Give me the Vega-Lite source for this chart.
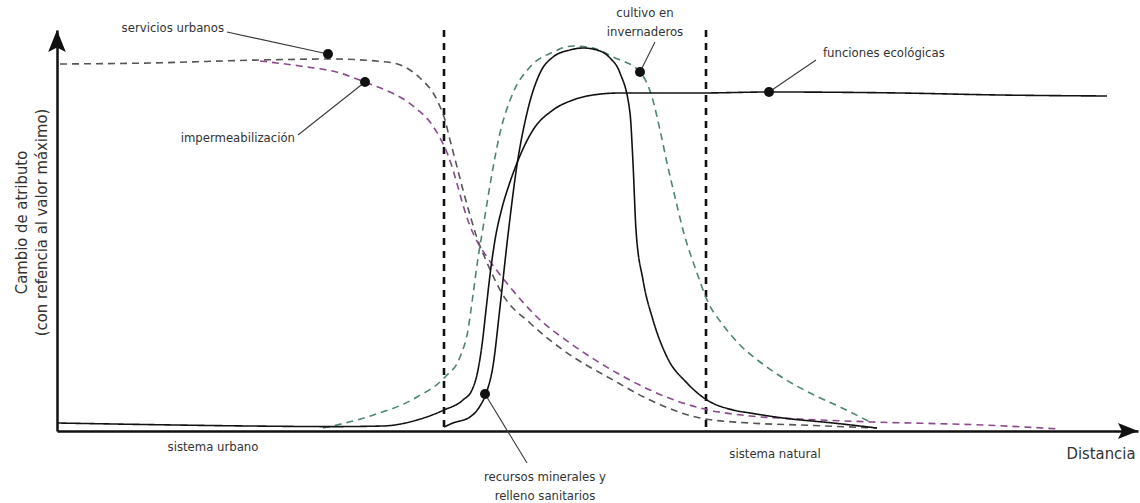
{
  "$schema": "https://vega.github.io/schema/vega-lite/v6.json",
  "width": 1081,
  "height": 401,
  "autosize": {"type": "none"},
  "padding": {"left": 57, "top": 30, "right": 2, "bottom": 72},
  "background": "white",
  "config": {
    "view": {"stroke": null},
    "font": "Liberation Sans Narrow, DejaVu Sans Condensed, sans-serif",
    "text": {"font": "Liberation Sans Narrow, DejaVu Sans Condensed, sans-serif"}
  },
  "datasets": {
    "curvas": [
      {"serie": "servicios urbanos", "x": 0.3, "y": 91.75},
      {"serie": "servicios urbanos", "x": 9.3, "y": 92},
      {"serie": "servicios urbanos", "x": 20.3, "y": 92.75},
      {"serie": "servicios urbanos", "x": 27.3, "y": 93},
      {"serie": "servicios urbanos", "x": 33, "y": 92.25},
      {"serie": "servicios urbanos", "x": 35.3, "y": 90.25},
      {"serie": "servicios urbanos", "x": 36.3, "y": 88.25},
      {"serie": "servicios urbanos", "x": 38, "y": 82.75},
      {"serie": "servicios urbanos", "x": 38.8, "y": 77.75},
      {"serie": "servicios urbanos", "x": 39.3, "y": 72.75},
      {"serie": "servicios urbanos", "x": 39.9, "y": 67},
      {"serie": "servicios urbanos", "x": 40.6, "y": 60.25},
      {"serie": "servicios urbanos", "x": 41.3, "y": 54},
      {"serie": "servicios urbanos", "x": 42, "y": 48.25},
      {"serie": "servicios urbanos", "x": 42.8, "y": 43.25},
      {"serie": "servicios urbanos", "x": 43.7, "y": 38.25},
      {"serie": "servicios urbanos", "x": 44.6, "y": 34},
      {"serie": "servicios urbanos", "x": 47.3, "y": 27},
      {"serie": "servicios urbanos", "x": 50.6, "y": 20.25},
      {"serie": "servicios urbanos", "x": 55.6, "y": 12.75},
      {"serie": "servicios urbanos", "x": 59.3, "y": 7.75},
      {"serie": "servicios urbanos", "x": 64.3, "y": 3.25},
      {"serie": "servicios urbanos", "x": 69.3, "y": 2},
      {"serie": "servicios urbanos", "x": 74.3, "y": 1.5},
      {"serie": "servicios urbanos", "x": 82, "y": 0.75},

      {"serie": "impermeabilización", "x": 20.3, "y": 92.5},
      {"serie": "impermeabilización", "x": 24.3, "y": 91.25},
      {"serie": "impermeabilización", "x": 28.3, "y": 89.5},
      {"serie": "impermeabilización", "x": 31, "y": 87},
      {"serie": "impermeabilización", "x": 33.3, "y": 84.75},
      {"serie": "impermeabilización", "x": 34.8, "y": 82.75},
      {"serie": "impermeabilización", "x": 36.1, "y": 80.25},
      {"serie": "impermeabilización", "x": 37.3, "y": 77.25},
      {"serie": "impermeabilización", "x": 38.3, "y": 73.25},
      {"serie": "impermeabilización", "x": 39.1, "y": 69},
      {"serie": "impermeabilización", "x": 39.9, "y": 62.75},
      {"serie": "impermeabilización", "x": 40.6, "y": 56.5},
      {"serie": "impermeabilización", "x": 41.3, "y": 51.25},
      {"serie": "impermeabilización", "x": 42.1, "y": 47},
      {"serie": "impermeabilización", "x": 43, "y": 43.5},
      {"serie": "impermeabilización", "x": 45.3, "y": 36},
      {"serie": "impermeabilización", "x": 48, "y": 28.5},
      {"serie": "impermeabilización", "x": 51.3, "y": 22},
      {"serie": "impermeabilización", "x": 56, "y": 14.5},
      {"serie": "impermeabilización", "x": 59.3, "y": 10.25},
      {"serie": "impermeabilización", "x": 64.3, "y": 5.75},
      {"serie": "impermeabilización", "x": 69.3, "y": 3.75},
      {"serie": "impermeabilización", "x": 74.3, "y": 3},
      {"serie": "impermeabilización", "x": 81.6, "y": 2.25},
      {"serie": "impermeabilización", "x": 92.6, "y": 1.5},
      {"serie": "impermeabilización", "x": 100.3, "y": 0.5},

      {"serie": "cultivo en invernaderos", "x": 26.6, "y": 0.75},
      {"serie": "cultivo en invernaderos", "x": 31, "y": 3.5},
      {"serie": "cultivo en invernaderos", "x": 36, "y": 8.5},
      {"serie": "cultivo en invernaderos", "x": 38.8, "y": 13.5},
      {"serie": "cultivo en invernaderos", "x": 40.3, "y": 18.5},
      {"serie": "cultivo en invernaderos", "x": 41.1, "y": 25.25},
      {"serie": "cultivo en invernaderos", "x": 41.6, "y": 34},
      {"serie": "cultivo en invernaderos", "x": 42.1, "y": 43.25},
      {"serie": "cultivo en invernaderos", "x": 42.6, "y": 50.75},
      {"serie": "cultivo en invernaderos", "x": 43.3, "y": 61.5},
      {"serie": "cultivo en invernaderos", "x": 44.3, "y": 74.5},
      {"serie": "cultivo en invernaderos", "x": 45.6, "y": 84.5},
      {"serie": "cultivo en invernaderos", "x": 47.3, "y": 91},
      {"serie": "cultivo en invernaderos", "x": 49.6, "y": 94.75},
      {"serie": "cultivo en invernaderos", "x": 51.6, "y": 96.25},
      {"serie": "cultivo en invernaderos", "x": 53.6, "y": 95.75},
      {"serie": "cultivo en invernaderos", "x": 55.6, "y": 93.5},
      {"serie": "cultivo en invernaderos", "x": 58.3, "y": 89.75},
      {"serie": "cultivo en invernaderos", "x": 59.5, "y": 83.5},
      {"serie": "cultivo en invernaderos", "x": 60.3, "y": 75.25},
      {"serie": "cultivo en invernaderos", "x": 61, "y": 67},
      {"serie": "cultivo en invernaderos", "x": 61.8, "y": 58.5},
      {"serie": "cultivo en invernaderos", "x": 62.6, "y": 50.25},
      {"serie": "cultivo en invernaderos", "x": 64, "y": 39.5},
      {"serie": "cultivo en invernaderos", "x": 65, "y": 32.75},
      {"serie": "cultivo en invernaderos", "x": 66.6, "y": 26.5},
      {"serie": "cultivo en invernaderos", "x": 68.3, "y": 21.5},
      {"serie": "cultivo en invernaderos", "x": 70.3, "y": 17.25},
      {"serie": "cultivo en invernaderos", "x": 72.6, "y": 13.25},
      {"serie": "cultivo en invernaderos", "x": 75.3, "y": 9.5},
      {"serie": "cultivo en invernaderos", "x": 78.3, "y": 6},
      {"serie": "cultivo en invernaderos", "x": 81.5, "y": 2},

      {"serie": "recursos minerales y relleno sanitarios", "x": 38.7, "y": 1},
      {"serie": "recursos minerales y relleno sanitarios", "x": 39.6, "y": 2},
      {"serie": "recursos minerales y relleno sanitarios", "x": 41.3, "y": 3.5},
      {"serie": "recursos minerales y relleno sanitarios", "x": 42.3, "y": 6.25},
      {"serie": "recursos minerales y relleno sanitarios", "x": 43, "y": 10},
      {"serie": "recursos minerales y relleno sanitarios", "x": 43.6, "y": 16.25},
      {"serie": "recursos minerales y relleno sanitarios", "x": 44.3, "y": 31},
      {"serie": "recursos minerales y relleno sanitarios", "x": 45.1, "y": 49},
      {"serie": "recursos minerales y relleno sanitarios", "x": 46, "y": 66.5},
      {"serie": "recursos minerales y relleno sanitarios", "x": 47, "y": 79.5},
      {"serie": "recursos minerales y relleno sanitarios", "x": 48.3, "y": 89.5},
      {"serie": "recursos minerales y relleno sanitarios", "x": 49.6, "y": 93.5},
      {"serie": "recursos minerales y relleno sanitarios", "x": 51.3, "y": 95.25},
      {"serie": "recursos minerales y relleno sanitarios", "x": 52.6, "y": 95.75},
      {"serie": "recursos minerales y relleno sanitarios", "x": 54, "y": 95.25},
      {"serie": "recursos minerales y relleno sanitarios", "x": 55.3, "y": 93.25},
      {"serie": "recursos minerales y relleno sanitarios", "x": 56.3, "y": 89.5},
      {"serie": "recursos minerales y relleno sanitarios", "x": 57.3, "y": 79.5},
      {"serie": "recursos minerales y relleno sanitarios", "x": 57.6, "y": 67},
      {"serie": "recursos minerales y relleno sanitarios", "x": 57.9, "y": 50.25},
      {"serie": "recursos minerales y relleno sanitarios", "x": 58.6, "y": 37.75},
      {"serie": "recursos minerales y relleno sanitarios", "x": 59.6, "y": 27.75},
      {"serie": "recursos minerales y relleno sanitarios", "x": 61, "y": 18.5},
      {"serie": "recursos minerales y relleno sanitarios", "x": 63, "y": 12},
      {"serie": "recursos minerales y relleno sanitarios", "x": 65, "y": 7.75},
      {"serie": "recursos minerales y relleno sanitarios", "x": 67.6, "y": 5.25},
      {"serie": "recursos minerales y relleno sanitarios", "x": 69.3, "y": 4.5},
      {"serie": "recursos minerales y relleno sanitarios", "x": 72.6, "y": 3.25},
      {"serie": "recursos minerales y relleno sanitarios", "x": 77.6, "y": 2},
      {"serie": "recursos minerales y relleno sanitarios", "x": 82, "y": 0.75},

      {"serie": "funciones ecológicas", "x": 0, "y": 2},
      {"serie": "funciones ecológicas", "x": 9.3, "y": 1.6},
      {"serie": "funciones ecológicas", "x": 19.3, "y": 1.25},
      {"serie": "funciones ecológicas", "x": 27.6, "y": 1.1},
      {"serie": "funciones ecológicas", "x": 32.6, "y": 1.25},
      {"serie": "funciones ecológicas", "x": 36, "y": 2.75},
      {"serie": "funciones ecológicas", "x": 38.7, "y": 5.25},
      {"serie": "funciones ecológicas", "x": 40.6, "y": 7.75},
      {"serie": "funciones ecológicas", "x": 41.5, "y": 10.25},
      {"serie": "funciones ecológicas", "x": 42.1, "y": 15.25},
      {"serie": "funciones ecológicas", "x": 42.5, "y": 21.5},
      {"serie": "funciones ecológicas", "x": 42.9, "y": 30.25},
      {"serie": "funciones ecológicas", "x": 43.3, "y": 39},
      {"serie": "funciones ecológicas", "x": 43.8, "y": 47.75},
      {"serie": "funciones ecológicas", "x": 44.5, "y": 55.75},
      {"serie": "funciones ecológicas", "x": 45.2, "y": 61.5},
      {"serie": "funciones ecológicas", "x": 46, "y": 67},
      {"serie": "funciones ecológicas", "x": 47.6, "y": 75.25},
      {"serie": "funciones ecológicas", "x": 49.6, "y": 80.25},
      {"serie": "funciones ecológicas", "x": 51.6, "y": 82.75},
      {"serie": "funciones ecológicas", "x": 53.6, "y": 84},
      {"serie": "funciones ecológicas", "x": 56.3, "y": 84.5},
      {"serie": "funciones ecológicas", "x": 64.3, "y": 84.5},
      {"serie": "funciones ecológicas", "x": 71.2, "y": 84.75},
      {"serie": "funciones ecológicas", "x": 84.3, "y": 84.5},
      {"serie": "funciones ecológicas", "x": 94.3, "y": 84},
      {"serie": "funciones ecológicas", "x": 105, "y": 83.75}
    ],
    "limites": [{"x": 38.7}, {"x": 64.9}],
    "marcadores": [
      {"serie": "servicios urbanos", "x": 27.1, "y": 94.25, "tx": 17, "ty": 99.75},
      {"serie": "impermeabilización", "x": 30.8, "y": 87.25, "tx": 24.1, "ty": 74},
      {"serie": "cultivo en invernaderos", "x": 58.3, "y": 89.75, "tx": 59.8, "ty": 97.25},
      {"serie": "funciones ecológicas", "x": 71.2, "y": 84.75, "tx": 75.9, "ty": 92.75},
      {"serie": "recursos minerales y relleno sanitarios", "x": 42.8, "y": 9.25, "tx": 47, "ty": -8}
    ],
    "etiquetasDerecha": [
      {"texto": "servicios urbanos", "x": 16.7, "y": 100.75},
      {"texto": "impermeabilización", "x": 23.8, "y": 73.25}
    ],
    "etiquetasIzquierda": [
      {"texto": "funciones ecológicas", "x": 76.6, "y": 94.5}
    ],
    "etiquetasCentro": [
      {"texto": "cultivo en\ninvernaderos", "x": 58.8, "y": 104.5},
      {"texto": "recursos minerales y\nrelleno sanitarios", "x": 48.8, "y": -11.5},
      {"texto": "sistema urbano", "x": 15.6, "y": -4},
      {"texto": "sistema natural", "x": 71.8, "y": -5.75}
    ],
    "flechaX": [{"x": 107.1, "y": 0}],
    "flechaY": [{"x": 0, "y": 97.5}]
  },
  "encoding": {
    "x": {
      "field": "x", "type": "quantitative",
      "scale": {"domain": [0, 108.1], "nice": false, "zero": false},
      "axis": {
        "title": "Distancia", "grid": false, "ticks": false, "labels": false,
        "domainColor": "#111", "domainWidth": 2.5,
        "titleFont": "Liberation Sans Narrow, DejaVu Sans Condensed, sans-serif",
        "titleFontSize": 16.5, "titleFontWeight": "normal", "titleColor": "#333",
        "titleAnchor": "end", "titleAlign": "right", "titleBaseline": "middle",
        "titleX": 1078, "titleY": 22
      }
    },
    "y": {
      "field": "y", "type": "quantitative",
      "scale": {"domain": [0, 100.25], "nice": false, "zero": false},
      "axis": {
        "title": ["Cambio de atributo", "(con refencia al valor máximo)"],
        "grid": false, "ticks": false, "labels": false,
        "domainColor": "#111", "domainWidth": 2.5,
        "titleFont": "Liberation Sans Narrow, DejaVu Sans Condensed, sans-serif",
        "titleFontSize": 16.5, "titleFontWeight": "normal", "titleColor": "#333",
        "titleAngle": 270, "titleAlign": "center", "titleBaseline": "middle",
        "titleLineHeight": 20, "titleX": -36, "titleY": 192
      }
    }
  },
  "layer": [
    {
      "data": {"name": "limites"},
      "mark": {"type": "rule", "color": "#111", "strokeWidth": 2.6, "strokeDash": [7, 6]},
      "encoding": {"y": null}
    },
    {
      "data": {"name": "curvas"},
      "mark": {"type": "line", "interpolate": "monotone", "strokeWidth": 1.6},
      "encoding": {
        "detail": {"field": "serie"},
        "color": {
          "field": "serie", "type": "nominal", "legend": null,
          "scale": {
            "domain": ["servicios urbanos", "impermeabilización", "cultivo en invernaderos", "recursos minerales y relleno sanitarios", "funciones ecológicas"],
            "range": ["#555555", "#8a4a8c", "#4c8574", "#111111", "#111111"]
          }
        },
        "strokeDash": {
          "field": "serie", "type": "nominal", "legend": null,
          "scale": {
            "domain": ["servicios urbanos", "impermeabilización", "cultivo en invernaderos", "recursos minerales y relleno sanitarios", "funciones ecológicas"],
            "range": [[7, 5], [7, 5], [7, 5], [1, 0], [1, 0]]
          }
        }
      }
    },
    {
      "data": {"name": "marcadores"},
      "mark": {"type": "rule", "color": "#3a3a3a", "strokeWidth": 1.1},
      "encoding": {
        "x2": {"field": "tx"},
        "y2": {"field": "ty"}
      }
    },
    {
      "data": {"name": "marcadores"},
      "mark": {"type": "point", "filled": true, "color": "#111", "size": 100, "opacity": 1}
    },
    {
      "data": {"name": "etiquetasDerecha"},
      "mark": {"type": "text", "align": "right", "baseline": "middle", "fontSize": 13, "color": "#333"},
      "encoding": {"text": {"field": "texto"}}
    },
    {
      "data": {"name": "etiquetasIzquierda"},
      "mark": {"type": "text", "align": "left", "baseline": "middle", "fontSize": 13, "color": "#333"},
      "encoding": {"text": {"field": "texto"}}
    },
    {
      "data": {"name": "etiquetasCentro"},
      "mark": {"type": "text", "align": "center", "baseline": "middle", "fontSize": 13, "color": "#333", "lineBreak": "\n", "lineHeight": 19},
      "encoding": {"text": {"field": "texto"}}
    },
    {
      "data": {"name": "flechaX"},
      "mark": {"type": "point", "filled": true, "color": "#111", "opacity": 1, "size": 400, "shape": "M-1,-0.8L1,0L-1,0.8L-0.6,0Z"}
    },
    {
      "data": {"name": "flechaY"},
      "mark": {"type": "point", "filled": true, "color": "#111", "opacity": 1, "size": 484, "shape": "M-0.8,1L0,-1L0.8,1L0,0.6Z"}
    }
  ]
}
